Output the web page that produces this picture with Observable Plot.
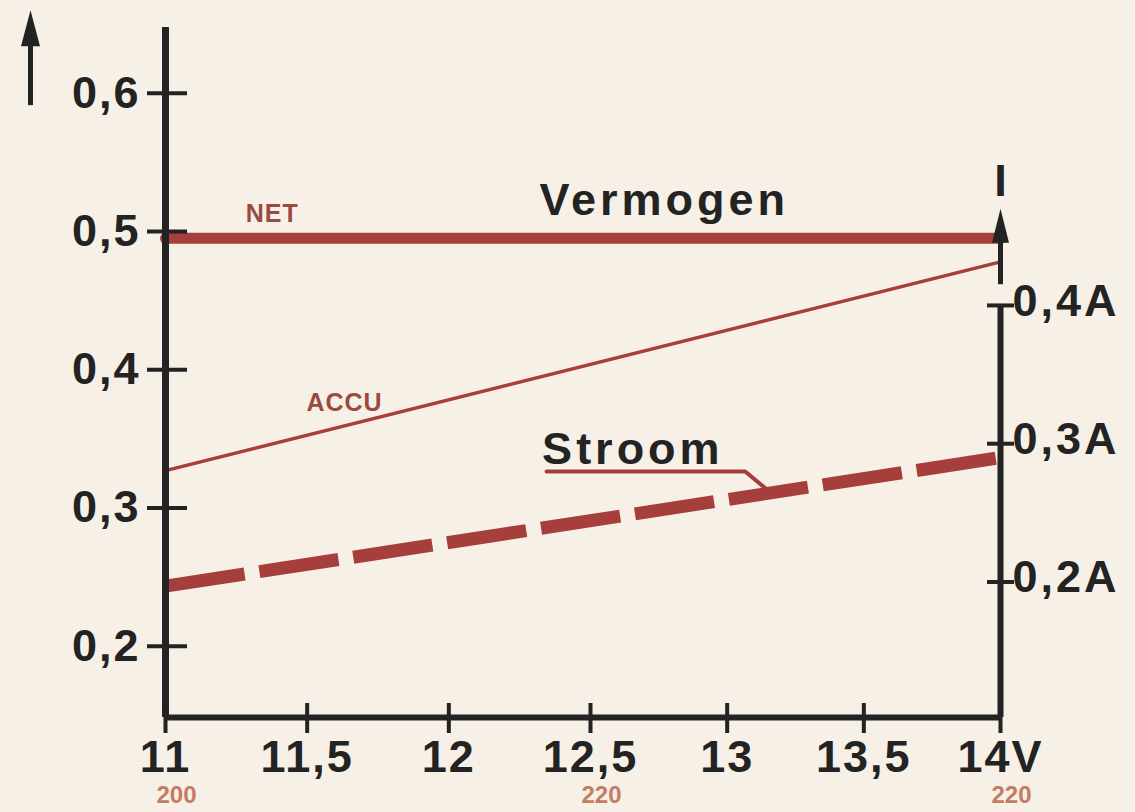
<!DOCTYPE html>
<html><head><meta charset="utf-8">
<script src="https://cdn.jsdelivr.net/npm/d3@7"></script>
<script src="https://cdn.jsdelivr.net/npm/@observablehq/plot@0.6"></script>
<style>
html,body{margin:0;padding:0;background:#f6f0e6;overflow:hidden;}
</style></head><body><div id="chart"></div>
<script>
// ---- data ----
const voltage = [11, 14];
const netPower = [0.495, 0.495];
const accuPower = [0.327, 0.478];
const stroomAmp = [0.197, 0.29];

const xTicks = [11, 11.5, 12, 12.5, 13, 13.5, 14];
const xTickLabels = ["11", "11,5", "12", "12,5", "13", "13,5", "14V"];
const yTicks = [0.2, 0.3, 0.4, 0.5, 0.6];
const yTickLabels = ["0,2", "0,3", "0,4", "0,5", "0,6"];
const ampTicks = [0.2, 0.3, 0.4];
const ampTickLabels = ["0,2A", "0,3A", "0,4A"];
const mainsX = [11, 12.5, 14];
const mainsLabels = ["200", "220", "220"];

const seriesLabels = ["NET", "ACCU"];
const seriesLabelX = [11.377, 11.632];
const titleLabelX = {Vermogen: 12.77, Stroom: 12.655};
const stroomLeaderX = [12.345, 13.066, 13.163];
const stroomLeaderY = [0.3264, 0.3264];
const powerArrow = [0.591, 0.66];
const currentArrowA = [0.415, 0.47];

// ---- helpers ----
const yDomain = [0.1485, 0.6475];
const ampShift = 0.0465; // position of the ampere axis on the shared vertical scale
const red = "#a63e3b", ink = "#232323", labelRed = "#9b4a42", mainsRed = "#c47c63";
const lerp = (xs, ys, x) => ys[0] + (ys[1] - ys[0]) * (x - xs[0]) / (xs[1] - xs[0]);
const stroomPos = stroomAmp.map(a => a + ampShift);
const rows = (ys) => voltage.map((v, i) => ({v, y: ys[i]}));
const headSymbol = (w, h) => ({draw(ctx) { ctx.moveTo(0, 0); ctx.lineTo(w / 2, h); ctx.lineTo(-w / 2, h); ctx.closePath(); }});

const seriesLabelData = seriesLabels.map((t, i) => ({t, x: seriesLabelX[i], y: lerp(voltage, [netPower, accuPower][i], seriesLabelX[i])}));
const vermogenLabel = [{t: "Vermogen", x: titleLabelX.Vermogen, y: lerp(voltage, netPower, titleLabelX.Vermogen)}];
const stroomLabel = [{t: "Stroom", x: titleLabelX.Stroom, y: lerp(voltage, stroomPos, titleLabelX.Stroom)}];
const leader = stroomLeaderX.map((x, i) => ({x, y: i < 2 ? stroomLeaderY[i] : lerp(voltage, stroomPos, x)}));
const iArrow = currentArrowA.map(a => a + ampShift);

const big = {fontSize: 45, fontWeight: "bold", fill: ink};

const chart = Plot.plot({
  width: 1135, height: 812,
  marginLeft: 165, marginRight: 135, marginTop: 27, marginBottom: 95,
  x: {type: "linear", domain: [11, 12.5, 14], range: [165, 590, 1000], axis: null},
  y: {type: "linear", domain: yDomain, axis: null},
  style: {background: "#f6f0e6", fontFamily: "'Liberation Sans', Arial, Helvetica, sans-serif", color: ink},
  marks: [
    // series
    Plot.line(rows(netPower), {x: "v", y: "y", stroke: red, strokeWidth: 11}),
    Plot.line(rows(accuPower), {x: "v", y: "y", stroke: red, strokeWidth: 3.5}),
    Plot.line(rows(stroomPos), {x: "v", y: "y", stroke: red, strokeWidth: 13, strokeDasharray: "80,15", strokeLinecap: "butt"}),
    Plot.line(leader, {x: "x", y: "y", stroke: red, strokeWidth: 4, strokeLinejoin: "round"}),
    // axis lines
    Plot.ruleX([11], {stroke: ink, strokeWidth: 7}),
    Plot.ruleY([yDomain[0]], {x1: 11, x2: 14, stroke: ink, strokeWidth: 6}),
    Plot.ruleX([14], {y1: yDomain[0], y2: ampTicks[ampTicks.length - 1] + ampShift, stroke: ink, strokeWidth: 6}),
    // ticks
    Plot.ruleY(yTicks, {y: d => d, x1: 11, x2: 11, insetLeft: -18, insetRight: -22, stroke: ink, strokeWidth: 4}),
    Plot.ruleX(xTicks, {x: d => d, y1: yDomain[0], y2: yDomain[0], insetTop: -14, insetBottom: -16, stroke: ink, strokeWidth: 4}),
    Plot.ruleY(ampTicks, {y: d => d + ampShift, x1: 14, x2: 14, insetLeft: -13, insetRight: -14, stroke: ink, strokeWidth: 4}),
    // tick labels
    Plot.text(yTicks, {x: 11, y: d => d, text: (d, i) => yTickLabels[i], dx: -25, textAnchor: "end", ...big}),
    Plot.text(xTicks, {x: d => d, y: yDomain[0], text: (d, i) => xTickLabels[i], dy: 23, lineAnchor: "top", ...big}),
    Plot.text(ampTicks, {x: 14, y: d => d + ampShift, text: (d, i) => ampTickLabels[i], dx: 12, dy: -4, textAnchor: "start", ...big}),
    Plot.text(mainsX, {x: d => d, y: yDomain[0], text: (d, i) => mainsLabels[i], dx: 11, dy: 68, lineAnchor: "top", fontSize: 24, fontWeight: "bold", fill: mainsRed}),
    // axis arrows
    Plot.ruleX([11], {y1: powerArrow[0], y2: powerArrow[1] - 0.02, dx: -135, stroke: ink, strokeWidth: 5}),
    Plot.dot([powerArrow[1]], {x: 11, y: d => d, dx: -135, symbol: headSymbol(19, 36), r: 5, fill: ink, stroke: "none"}),
    Plot.ruleX([14], {y1: iArrow[0], y2: iArrow[1] - 0.02, stroke: ink, strokeWidth: 5}),
    Plot.dot([iArrow[1]], {x: 14, y: d => d, symbol: headSymbol(17, 34), r: 5, fill: ink, stroke: "none"}),
    Plot.text([iArrow[1]], {x: 14, y: d => d, text: () => "I", dy: -27, ...big}),
    // series labels
    Plot.text(seriesLabelData, {x: "x", y: "y", text: "t", dy: -24, fontSize: 25, fontWeight: "bold", fill: labelRed, fontFamily: "'Liberation Sans Narrow', 'Liberation Sans', sans-serif"}),
    Plot.text(vermogenLabel, {x: "x", y: "y", text: "t", dy: -38, ...big}),
    Plot.text(stroomLabel, {x: "x", y: "y", text: "t", dy: -66, ...big})
  ]
});
document.getElementById("chart").appendChild(chart);

// letter spacing to match the wide lettering of the original
d3.select(chart).selectAll("text").each(function () {
  const t = this.textContent;
  if (t === "Vermogen" || t === "Stroom") this.style.letterSpacing = "4px";
  else if (/A$/.test(t)) this.style.letterSpacing = "3px";
  else if (/^[0-9]/.test(t) && !mainsLabels.includes(t)) this.style.letterSpacing = "2px";
  else if (t === "NET" || t === "ACCU") this.style.letterSpacing = "1px";
});
</script></body></html>
